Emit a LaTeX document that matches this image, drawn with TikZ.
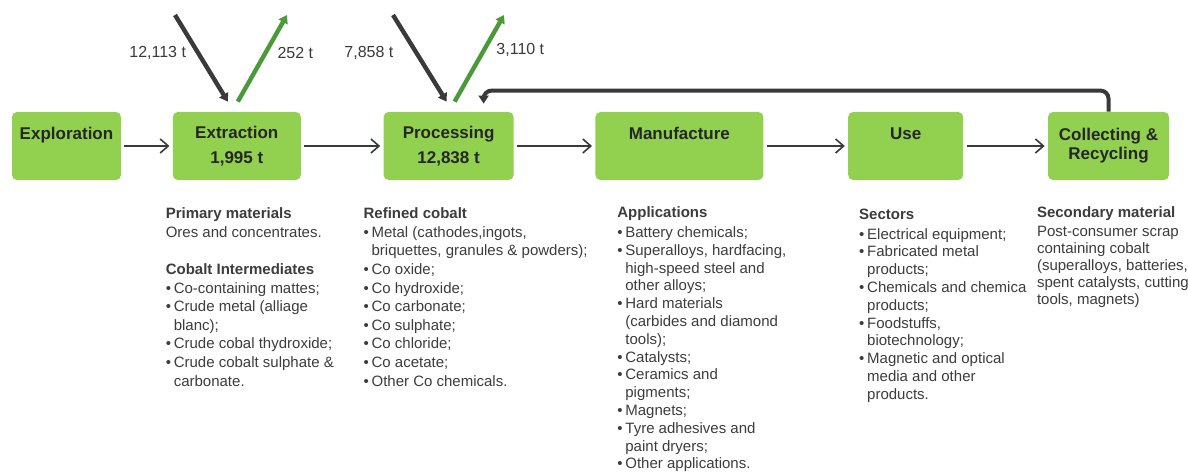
\documentclass[tikz,border=0pt]{standalone}
\usepackage{fontspec}
\setmainfont{Liberation Sans}
\usetikzlibrary{arrows.meta,positioning,calc}
\definecolor{boxgreen}{HTML}{92D050}
\definecolor{outgreen}{HTML}{4A9A3A}
\definecolor{flowgray}{HTML}{3A3A3A}
\definecolor{txtgray}{HTML}{3C3C3C}
\newcommand{\itm}{\makebox[4pt][l]{\textbullet}}
\newcommand{\cnt}{\hspace*{4pt}}

\begin{document}
\begin{tikzpicture}[x=0.5pt,y=0.5pt,
  stage/.style={fill=boxgreen,rounded corners=2.5pt,minimum height=34pt,align=center,
    text=black!85,font=\fontsize{8.5}{12.5}\selectfont\bfseries,inner sep=0pt},
  info/.style={align=left,inner sep=0pt,text=txtgray,font=\fontsize{7.5}{9.3}\selectfont},
  flow/.style={-{Straight Barb[length=4pt,width=7pt]},flowgray,line width=0.8pt,
    shorten <=1.5pt,shorten >=1.5pt},
  inarr/.style={-{Triangle[length=4pt,width=5pt]},flowgray,line width=2.2pt},
  outarr/.style={-{Triangle[length=4pt,width=5pt]},outgreen,line width=2.2pt},
  fback/.style={-{Triangle[length=4pt,width=5pt]},flowgray,line width=2pt,rounded corners=4pt},
  qty/.style={font=\fontsize{8}{9.6}\selectfont,text=flowgray,inner sep=0pt}]
\useasboundingbox (0,0) rectangle (1188,471);

% stages
\node[stage,minimum width=54.5pt] (expl) at (66.5,325) {Exploration\\\mbox{}};
\node[stage,minimum width=64pt,right=25.5pt of expl] (extr) {Extraction\\1,995 t};
\node[stage,minimum width=65pt,right=41pt of extr] (proc) {Processing\\12,838 t};
\node[stage,minimum width=84pt,right=40.5pt of proc] (manu) {Manufacture\\\mbox{}};
\node[stage,minimum width=57.5pt,right=42pt of manu] (use) {Use\\\mbox{}};
\node[stage,minimum width=60.5pt,right=42pt of use,font=\fontsize{8.5}{9.5}\selectfont\bfseries] (coll) {Collecting \&\\Recycling};

\draw[flow] (expl.east) -- (extr.west);
\draw[flow] (extr.east) -- (proc.west);
\draw[flow] (proc.east) -- (manu.west);
\draw[flow] (manu.east) -- (use.west);
\draw[flow] (use.east) -- (coll.west);

% inputs and outputs
\coordinate (exIn) at (175,456);
\coordinate (exOut) at (287,456);
\coordinate (prIn) at (393,456);
\coordinate (prOut) at (504,456);
\draw[inarr] (exIn) -- ($(extr.north)+(-9,10)$) node[qty,pos=0.44,anchor=east,xshift=-5pt] (exInQ) {12,113 t};
\draw[outarr] ($(extr.north)+(1,10)$) -- (exOut) node[qty,pos=0.56,anchor=west,xshift=5pt] (exOutQ) {252 t};
\draw[inarr] (prIn) -- ($(proc.north)+(-2,10)$) node[qty,pos=0.44,anchor=east,xshift=-10.5pt] (prInQ) {7,858 t};
\draw[outarr] ($(proc.north)+(6,10)$) -- (prOut) node[qty,pos=0.6,anchor=west,xshift=5pt] (prOutQ) {3,110 t};
\draw[fback] (coll.north) -- ++(0,21) -| ($(proc.north)+(35,8)$);

% descriptions
\node[info,below=13.5pt of extr.south west,anchor=north west,xshift=-3.5pt] (prim) {%
\textbf{Primary materials}\\
Ores and concentrates.\\[9.3pt]
\textbf{Cobalt Intermediates}\\
\itm Co-containing mattes;\\
\itm Crude metal (alliage\\
\cnt blanc);\\
\itm Crude cobal thydroxide;\\
\itm Crude cobalt sulphate \&\\
\cnt carbonate.};
\node[info,below=13.5pt of proc.south west,anchor=north west,xshift=-10pt] (refd) {%
\textbf{Refined cobalt}\\
\itm Metal (cathodes,ingots,\\
\cnt briquettes, granules \& powders);\\
\itm Co oxide;\\
\itm Co hydroxide;\\
\itm Co carbonate;\\
\itm Co sulphate;\\
\itm Co chloride;\\
\itm Co acetate;\\
\itm Other Co chemicals.};
\node[info,font=\fontsize{7.5}{8.9}\selectfont,below=13pt of manu.south west,anchor=north west,xshift=11pt] (apps) {%
\textbf{Applications}\\[1pt]
\itm Battery chemicals;\\
\itm Superalloys, hardfacing,\\
\cnt high-speed steel and\\
\cnt other alloys;\\
\itm Hard materials\\
\cnt (carbides and diamond\\
\cnt tools);\\
\itm Catalysts;\\
\itm Ceramics and\\
\cnt pigments;\\
\itm Magnets;\\
\itm Tyre adhesives and\\
\cnt paint dryers;\\
\itm Other applications.};
\node[info,font=\fontsize{7.5}{8.9}\selectfont,below=14pt of use.south west,anchor=north west,xshift=5.5pt] (sect) {%
\textbf{Sectors}\\[1pt]
\itm Electrical equipment;\\
\itm Fabricated metal\\
\cnt products;\\
\itm Chemicals and chemica\\
\cnt products;\\
\itm Foodstuffs,\\
\cnt biotechnology;\\
\itm Magnetic and optical\\
\cnt media and other\\
\cnt products.};
\node[info,font=\fontsize{7.5}{8.5}\selectfont,fill=white,below=13pt of coll.south west,anchor=north west,xshift=-5.5pt] (secm) {%
\textbf{Secondary material}\\[1pt]
Post-consumer scrap\\
containing cobalt\\
(superalloys, batteries,\\
spent catalysts, cutting\\
tools, magnets)};
\end{tikzpicture}
\end{document}
